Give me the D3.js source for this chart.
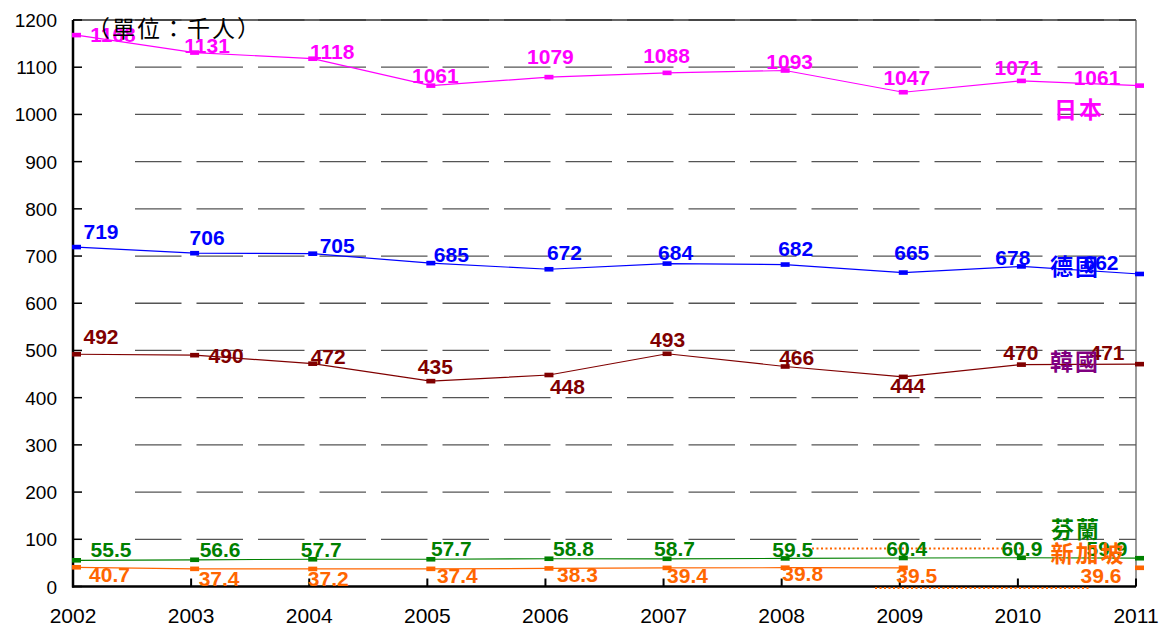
<!DOCTYPE html>
<html>
<head>
<meta charset="utf-8">
<script src="https://cdn.jsdelivr.net/npm/d3@7"></script>
<style>
  body { margin: 0; background: #fff; }
  svg { display: block; }
  .tick-y { font: 19px "Liberation Sans", Arial, sans-serif; fill: #000; }
  .tick-x { font: 21px "Liberation Sans", Arial, sans-serif; fill: #000; }
  .val { font: bold 21px "Liberation Sans", Arial, sans-serif; }
  .name { font: bold 23px "Noto Sans CJK TC", sans-serif; letter-spacing: 2px; }
</style>
</head>
<body>
<div id="chart"></div>
<script>
var years = [2002, 2003, 2004, 2005, 2006, 2007, 2008, 2009, 2010, 2011];
var yTicks = [0, 100, 200, 300, 400, 500, 600, 700, 800, 900, 1000, 1100, 1200];

var japan     = [1168, 1131, 1118, 1061, 1079, 1088, 1093, 1047, 1071, 1061];
var germany   = [719, 706, 705, 685, 672, 684, 682, 665, 678, 662];
var korea     = [492, 490, 472, 435, 448, 493, 466, 444, 470, 471];
var finland   = [55.5, 56.6, 57.7, 57.7, 58.8, 58.7, 59.5, 60.4, 60.9, 59.9];
var singapore = [40.7, 37.4, 37.2, 37.4, 38.3, 39.4, 39.8, 39.5, null, 39.6];

// hand placed label offsets (dx from point, baseline dy), as in the source chart
var offJapan = [[40,7],[16,0],[23,0],[8,-3],[5,-13],[3,-10],[8,-2],[7,-7],[0,-6],[-39,-1]];
var offGermany = [[28,-8],[16,-8],[28,-1],[24,-1.5],[19,-9],[12,-4],[14,-8.5],[12,-12.5],[-5,-1.5],[-35,-4]];
var offKorea = [[28,-10],[35,7.5],[19,0],[8,-7],[22,19],[4,-6.5],[15,-1.5],[8,16.5],[3,-4.5],[-29,-4]];
var offFinland = [[38,-3.5],[29,-3],[12,-2.5],[24,-3],[28,-2.7],[11,-2.7],[11,-1.7],[7,-2],[4,-1.7],[-29,-2.3]];
var offSingapore = [[36.5,14.4],[28,17],[19,17],[30,14],[32,14],[24,15],[21,13],[17,15.5],[0,0],[-35,15.5]];

var series = [
  {name: "芬蘭", values: finland, off: offFinland, color: "#008000", nameColor: "#008000", nx: -60, ny: 538},
  {name: "新加坡", values: singapore, off: offSingapore, color: "#FF6600", nameColor: "#FF6600", nx: -48, ny: 562},
  {name: "韓國", values: korea, off: offKorea, color: "#800000", nameColor: "#800080", nx: -61, ny: 370},
  {name: "德國", values: germany, off: offGermany, color: "#0000FF", nameColor: "#0000FF", nx: -61, ny: 275},
  {name: "日本", values: japan, off: offJapan, color: "#FF00FF", nameColor: "#FF00FF", nx: -57, ny: 118}
];

var W = 1165, H = 626;
var pLeft = 73, pRight = 1136, pTop = 20, pBottom = 586.5;
var shift = 3.5; // markers sit a bit right of the tick

var svg = d3.select("#chart").append("svg").attr("width", W).attr("height", H);

var x = d3.scalePoint().domain(years).range([pLeft, pRight]);
var y = d3.scaleLinear().domain([0, 1200]).range([pBottom, pTop]);

// grid
svg.append("g").selectAll("line")
    .data(yTicks.filter(function(d) { return d > 0; }))
  .enter().append("line")
    .attr("x1", 135).attr("x2", pRight)
    .attr("y1", function(d) { return y(d); })
    .attr("y2", function(d) { return y(d); })
    .attr("stroke", "#555")
    .attr("stroke-width", 1.3)
    .attr("stroke-dasharray", "46.5,15");

// frame
svg.append("line").attr("x1", pLeft).attr("x2", pRight).attr("y1", pTop).attr("y2", pTop)
    .attr("stroke", "#333").attr("stroke-width", 1.5);
svg.append("line").attr("x1", pRight).attr("x2", pRight).attr("y1", pTop).attr("y2", pBottom)
    .attr("stroke", "#555").attr("stroke-width", 1.2);

// y axis
var yAxis = svg.append("g");
yAxis.append("line").attr("x1", pLeft).attr("x2", pLeft).attr("y1", pTop).attr("y2", pBottom + 1)
    .attr("stroke", "#000").attr("stroke-width", 2.5);
yAxis.selectAll(".yt").data(yTicks).enter().append("line")
    .attr("x1", pLeft).attr("x2", pLeft + 9)
    .attr("y1", function(d) { return y(d); }).attr("y2", function(d) { return y(d); })
    .attr("stroke", "#000").attr("stroke-width", 1.5);
yAxis.selectAll("text").data(yTicks).enter().append("text")
    .attr("class", "tick-y")
    .attr("x", 57).attr("y", function(d) { return y(d) + 7; })
    .attr("text-anchor", "end")
    .text(function(d) { return d; });

// x axis
var xAxis = svg.append("g");
xAxis.append("line").attr("x1", pLeft - 1).attr("x2", pRight).attr("y1", pBottom).attr("y2", pBottom)
    .attr("stroke", "#000").attr("stroke-width", 2.5);
xAxis.selectAll(".xt").data(years).enter().append("line")
    .attr("x1", function(d) { return x(d); }).attr("x2", function(d) { return x(d); })
    .attr("y1", pBottom).attr("y2", pBottom - 8)
    .attr("stroke", "#000").attr("stroke-width", 2);
xAxis.selectAll("text").data(years).enter().append("text")
    .attr("class", "tick-x")
    .attr("x", function(d) { return x(d); }).attr("y", 623)
    .attr("text-anchor", "middle")
    .text(function(d) { return d; });

// stray dotted lines near 新加坡 (text box borders in the original)
svg.append("line").attr("x1", 812).attr("x2", 1023).attr("y1", 548.5).attr("y2", 548.5)
    .attr("stroke", "#FF6600").attr("stroke-width", 2).attr("stroke-dasharray", "2,2.5");
svg.append("line").attr("x1", 875).attr("x2", 1090).attr("y1", 588).attr("y2", 588)
    .attr("stroke", "#FF6600").attr("stroke-width", 2).attr("stroke-dasharray", "2,2.5");

var line = d3.line()
    .defined(function(d) { return d.v != null; })
    .x(function(d) { return x(d.year) + shift; })
    .y(function(d) { return y(d.v); });

series.forEach(function(s) {
  var pts = years.map(function(yr, i) { return {year: yr, v: s.values[i], off: s.off[i]}; });
  var g = svg.append("g");
  g.append("path").datum(pts)
      .attr("d", line)
      .attr("fill", "none")
      .attr("stroke", s.color)
      .attr("stroke-width", 1.2);
  var ok = pts.filter(function(d) { return d.v != null; });
  g.selectAll("rect").data(ok).enter().append("rect")
      .attr("x", function(d) { return x(d.year) + shift - 4.5; })
      .attr("y", function(d) { return y(d.v) - 2.3; })
      .attr("width", 9).attr("height", 4.6)
      .attr("fill", s.color);
  g.selectAll("text").data(ok).enter().append("text")
      .attr("class", "val")
      .attr("fill", s.color)
      .attr("text-anchor", "middle")
      .attr("x", function(d) { return x(d.year) + d.off[0]; })
      .attr("y", function(d) { return y(d.v) + d.off[1]; })
      .text(function(d) { return d.v; });
});

// series names, drawn over the labels
series.forEach(function(s) {
  svg.append("text")
      .attr("class", "name")
      .attr("fill", s.nameColor)
      .attr("text-anchor", "middle")
      .attr("x", x(2011) + s.nx)
      .attr("y", s.ny)
      .text(s.name);
});

svg.append("text")
    .attr("x", 87).attr("y", 37)
    .style("font", "23px 'Noto Sans CJK TC', sans-serif")
    .style("letter-spacing", "2px")
    .attr("fill", "#000")
    .text("（單位：千人）");
</script>
</body>
</html>
